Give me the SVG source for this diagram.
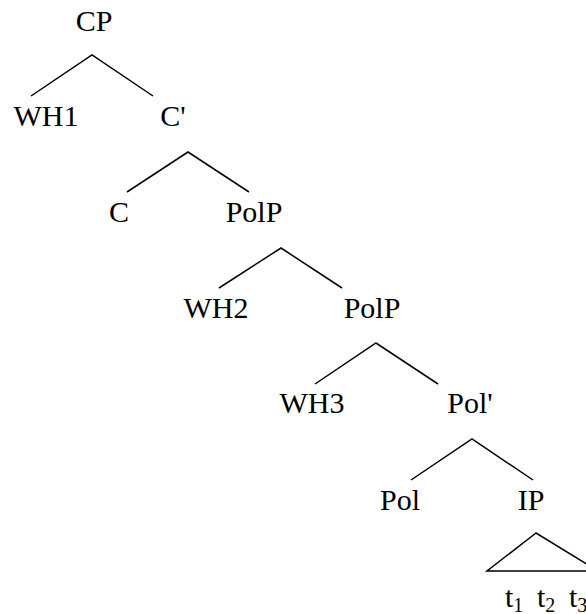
<svg xmlns="http://www.w3.org/2000/svg" width="586" height="614" viewBox="0 0 586 614">
<style>
text { font-family: "Liberation Serif", "Times New Roman", serif; font-size: 30px; fill: #000; text-anchor: middle; }
.t { text-anchor: start; }
.sub { font-size: 20px; }
.edge { stroke: #000; stroke-width: 1.5; fill: none; stroke-linecap: butt; }
</style>
<rect width="586" height="614" fill="#fff"/>
<g id="connectors">
<polyline class="edge" points="31,96 92,55 153,96"/>
<polyline class="edge" points="127,192 188,152 249,192"/>
<polyline class="edge" points="219,288 281,248 342,288"/>
<polyline class="edge" points="315,384 376,343 438,384"/>
<polyline class="edge" points="411,480 472,439 533,480"/>
<polygon class="edge" points="536,533 487,571 598,571"/>
</g>
<g id="n-CP"><text x="94" y="31">CP</text></g>
<g id="n-WH1"><text x="46" y="126">WH1</text></g>
<g id="n-Cbar"><text x="173" y="126">C'</text></g>
<g id="n-C"><text x="119" y="222">C</text></g>
<g id="n-PolP1"><text x="254" y="222">PolP</text></g>
<g id="n-WH2"><text x="216" y="318">WH2</text></g>
<g id="n-PolP2"><text x="372" y="318">PolP</text></g>
<g id="n-WH3"><text x="312" y="413">WH3</text></g>
<g id="n-Polbar"><text x="470" y="413">Pol'</text></g>
<g id="n-Pol"><text x="400" y="510">Pol</text></g>
<g id="n-IP"><text x="531" y="510">IP</text></g>
<g id="n-traces">
<text class="t" x="505" y="607">t<tspan class="sub" dy="5">1</tspan></text>
<text class="t" x="537" y="607">t<tspan class="sub" dy="5">2</tspan></text>
<text class="t" x="569" y="607">t<tspan class="sub" dy="5">3</tspan></text>
</g>
</svg>
